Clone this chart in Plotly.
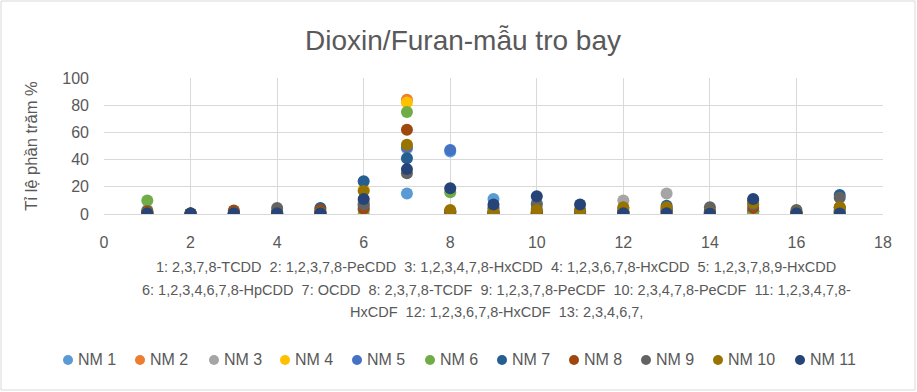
import plotly.graph_objects as go

x_vals = list(range(1, 18))
series_names = ["NM 1", "NM 2", "NM 3", "NM 4", "NM 5", "NM 6", "NM 7", "NM 8", "NM 9", "NM 10", "NM 11"]
colors = ["#5B9BD5", "#ED7D31", "#A5A5A5", "#FFC000", "#4472C4", "#70AD47",
          "#255E91", "#9E480E", "#636363", "#997300", "#264478"]

nm1 = [3, 0.3, 0.5, 0.5, 1, 3, 15, 46, 11, 8, 1, 2, 3, 1, 2, 0.5, 3]
nm2 = [1, 0.2, 1, 0.5, 1, 8, 84, 1, 1, 1, 0.5, 1, 2, 0.5, 2, 0.3, 2]
nm3 = [2, 0.3, 1, 2, 1, 10, 48, 2, 5, 4, 1, 10, 15, 2, 3, 1, 4]
nm4 = [1, 0.2, 0.5, 0.5, 0.5, 18, 82, 0.5, 0.5, 0.5, 0.5, 1, 1, 0.5, 1, 0.3, 1]
nm5 = [1, 0.2, 0.5, 0.5, 1, 6, 49, 47, 2, 2, 0.5, 1, 2, 0.5, 2, 0.3, 2]
nm6 = [10, 0.3, 0.5, 0.5, 0.5, 0, 75, 16, 0.5, 0.5, 0.5, 1, 1, 0.5, 0, 0.3, 1]
nm7 = [1, 0.3, 0.5, 1, 4.5, 24, 41, 2, 1, 0.5, 0, 1, 6, 1, 10, 1, 14]
nm8 = [2, 0.3, 2.5, 1, 3, 4, 62, 1, 0.5, 1, 2, 2, 3, 2, 4.5, 1, 5]
nm9 = [1, 0.3, 1, 4.5, 1, 7, 30, 2, 4, 7, 2, 4, 4, 5, 7, 3, 12]
nm10 = [1, 0.3, 0.5, 0.5, 1, 17, 51, 3, 2, 3, 3, 5, 5, 1, 8, 1, 5]
nm11 = [0.5, 0.3, 0.5, 0.5, 0.5, 11, 33, 19, 7, 13, 7, 0.5, 0.5, 0.3, 11, 0.5, 0.3]
all_series = [nm1, nm2, nm3, nm4, nm5, nm6, nm7, nm8, nm9, nm10, nm11]

title_text = "Dioxin/Furan-mẫu tro bay"
y_title = "Tỉ lệ phần trăm %"
x_title_lines = [
    "1: 2,3,7,8-TCDD  2: 1,2,3,7,8-PeCDD  3: 1,2,3,4,7,8-HxCDD  4: 1,2,3,6,7,8-HxCDD  5: 1,2,3,7,8,9-HxCDD",
    "6: 1,2,3,4,6,7,8-HpCDD  7: OCDD  8: 2,3,7,8-TCDF  9: 1,2,3,7,8-PeCDF  10: 2,3,4,7,8-PeCDF  11: 1,2,3,4,7,8-",
    "HxCDF  12: 1,2,3,6,7,8-HxCDF  13: 2,3,4,6,7,",
]

FONT = "Liberation Sans, Arial, sans-serif"
TXT = "#595959"

L, R, T, B = 104, 883, 78, 214
PW, PH = R - L, B - T

fig = go.Figure()
for name, col, vals in zip(series_names, colors, all_series):
    fig.add_trace(go.Scatter(x=x_vals, y=vals, mode="markers", name=name,
                             marker=dict(color=col, size=12)))

fig.update_layout(
    width=917, height=392,
    margin=dict(l=L, r=917 - R, t=T, b=392 - B, autoexpand=False),
    paper_bgcolor="white", plot_bgcolor="white",
    font=dict(family=FONT, color=TXT),
    title=dict(text=title_text, x=463 / 917, xanchor="center", xref="container",
               y=1 - 40 / 392, yanchor="middle", yref="container",
               font=dict(size=28, color=TXT, family=FONT)),
    showlegend=False,
)
fig.update_xaxes(range=[0, 18], dtick=2, tick0=0, showgrid=True, gridcolor="#D9D9D9",
                 zeroline=False, showline=True, linecolor="#D9D9D9", ticks="",
                 ticklabelstandoff=14, tickfont=dict(size=16, color=TXT))
fig.update_yaxes(range=[0, 100], dtick=20, showgrid=True, gridcolor="#D9D9D9",
                 zeroline=False, showline=False, ticks="", ticklabelstandoff=14,
                 tickfont=dict(size=16, color=TXT),
                 title=dict(text=y_title, font=dict(size=16.5, color=TXT), standoff=20))

for i, line in enumerate(x_title_lines):
    fig.add_annotation(text=line, xref="paper", yref="paper", x=(496 - L) / PW,
                       y=(B - 267 - 22.5 * i) / PH, xanchor="center", yanchor="middle",
                       showarrow=False, font=dict(size=14.5, color=TXT, family=FONT))

# legend (dot + label) placed below the chart
legend_dot_px = [68, 140, 214, 285, 357, 430, 502, 574, 646, 718, 800]
legend_y = (B - 360) / PH
for name, col, px in zip(series_names, colors, legend_dot_px):
    xp = (px - L) / PW
    fig.add_shape(type="circle", xref="paper", yref="paper", xsizemode="pixel", ysizemode="pixel",
                  xanchor=xp, yanchor=legend_y, x0=-5, x1=5, y0=-5, y1=5,
                  fillcolor=col, line=dict(width=0))
    fig.add_annotation(text=name, xref="paper", yref="paper", x=(px + 8 - L) / PW, y=legend_y,
                       xanchor="left", yanchor="middle", showarrow=False,
                       font=dict(size=16, color=TXT, family=FONT))

fig.add_shape(type="rect", xref="paper", yref="paper",
              x0=(1 - L) / PW, x1=(915 - L) / PW, y0=(B - 390) / PH, y1=(B - 1) / PH,
              line=dict(color="#D9D9D9", width=1), fillcolor="rgba(0,0,0,0)")

fig.write_html("out.html", config={"displayModeBar": False},
               post_script="document.body.style.margin='0px';document.body.style.overflow='hidden';")
